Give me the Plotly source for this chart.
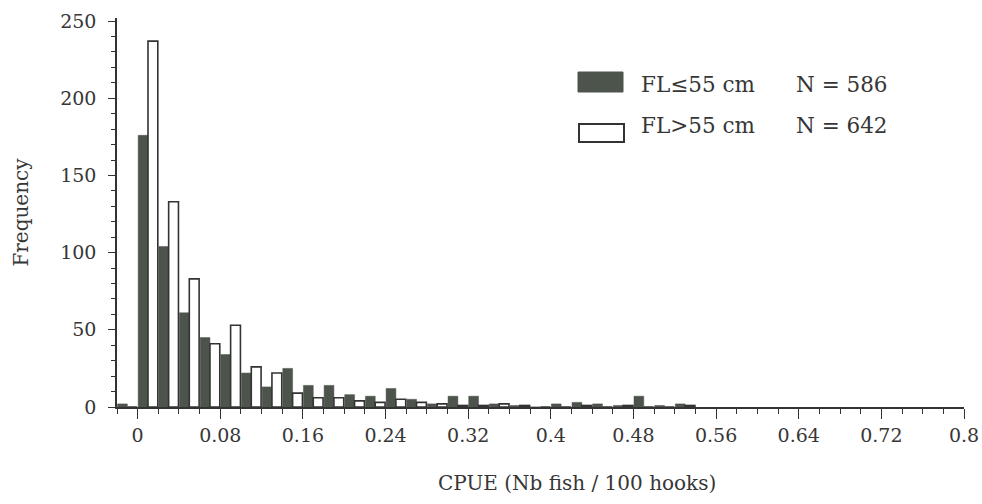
import plotly.graph_objects as go

# ---- data ----
bin_centers = [-0.01, 0.01, 0.03, 0.05, 0.07, 0.09, 0.11, 0.13, 0.15, 0.17, 0.19,
               0.21, 0.23, 0.25, 0.27, 0.29, 0.31, 0.33, 0.35, 0.37, 0.39,
               0.41, 0.43, 0.45, 0.47, 0.49, 0.51, 0.53]
freq_small = [2, 176, 104, 61, 45, 34, 22, 13, 25, 14, 14,
              8, 7, 12, 5, 2, 7, 7, 2, 1, 0,
              2, 3, 2, 1, 7, 1, 2]
freq_large = [0, 237, 133, 83, 41, 53, 26, 22, 9, 6, 6,
              4, 3, 5, 3, 2, 1, 1, 2, 1, 0,
              0, 1, 0, 1, 0, 0, 1]
name_small = "FL≤55 cm"
name_large = "FL>55 cm"
n_small = "N = 586"
n_large = "N = 642"
x_tickvals = [0, 0.08, 0.16, 0.24, 0.32, 0.4, 0.48, 0.56, 0.64, 0.72, 0.8]
x_ticktext = ["0", "0.08", "0.16", "0.24", "0.32", "0.4", "0.48", "0.56", "0.64", "0.72", "0.8"]
y_tickvals = [0, 50, 100, 150, 200, 250]

# ---- style ----
W, H = 982, 504
ML, MR, MT, MB = 117, 18, 18, 97
FONT = "DejaVu Serif"
TXT = "#363636"
DARK = "#4d544c"
LINE = "#333333"

def px_x(p):
    return (p - ML) / (W - ML - MR)

def px_y(p):
    return (H - MB - p) / (H - MT - MB)

fig = go.Figure()
fig.add_trace(go.Bar(x=bin_centers, y=freq_small, name=name_small,
                     marker=dict(color=DARK, line=dict(color=DARK, width=0.5)),
                     showlegend=False))
fig.add_trace(go.Bar(x=bin_centers, y=freq_large, name=name_large,
                     marker=dict(color="white", line=dict(color=LINE, width=1.6)),
                     showlegend=False))

fig.update_layout(
    width=W, height=H,
    margin=dict(l=ML, r=MR, t=MT, b=MB, autoexpand=False),
    paper_bgcolor="white", plot_bgcolor="white",
    barmode="group", bargap=0.05, bargroupgap=0,
    font=dict(family=FONT, size=19, color=TXT),
    xaxis=dict(range=[-0.02, 0.8], tickvals=x_tickvals, ticktext=x_ticktext,
               automargin=False,
               ticks="outside", ticklen=10, tickwidth=1.3, tickcolor=LINE,
               showline=True, linecolor=LINE, linewidth=1.5,
               showgrid=False, zeroline=False,
               minor=dict(dtick=0.02, tick0=0, ticks="outside", ticklen=5,
                          tickwidth=1.2, tickcolor=LINE),
               tickfont=dict(size=19, color=TXT)),
    yaxis=dict(range=[0, 252], tickvals=y_tickvals, automargin=False,
               ticks="outside", ticklen=7, tickwidth=1.3, tickcolor=LINE,
               showline=True, linecolor=LINE, linewidth=1.5,
               showgrid=False, zeroline=False,
               minor=dict(dtick=10, tick0=0, ticks="outside", ticklen=4,
                          tickwidth=1.2, tickcolor=LINE),
               ticklabelstandoff=8,
               tickfont=dict(size=19, color=TXT),
               title=dict(text="Frequency", standoff=26,
                          font=dict(size=20, color=TXT))),
)

# x-axis title (placed right of centre as in the reference)
fig.add_annotation(text="CPUE (Nb fish / 100 hooks)", xref="paper", yref="paper",
                   x=px_x(577), y=px_y(483), xanchor="center", yanchor="middle",
                   showarrow=False, font=dict(size=20, color=TXT))

# custom legend
fig.add_shape(type="rect", xref="paper", yref="paper",
              x0=px_x(578), x1=px_x(623), y0=px_y(92), y1=px_y(72),
              fillcolor=DARK, line=dict(color=DARK, width=1))
fig.add_shape(type="rect", xref="paper", yref="paper",
              x0=px_x(579), x1=px_x(624), y0=px_y(142), y1=px_y(124),
              fillcolor="white", line=dict(color=LINE, width=2))
for label, nlab, yc in [(name_small, n_small, 84), (name_large, n_large, 125)]:
    fig.add_annotation(text=label, xref="paper", yref="paper",
                       x=px_x(639), y=px_y(yc), xanchor="left", yanchor="middle",
                       showarrow=False, font=dict(size=21.5, color=TXT))
    fig.add_annotation(text=nlab, xref="paper", yref="paper",
                       x=px_x(794), y=px_y(yc), xanchor="left", yanchor="middle",
                       showarrow=False, font=dict(size=21.5, color=TXT))

fig.write_html("out.html")
